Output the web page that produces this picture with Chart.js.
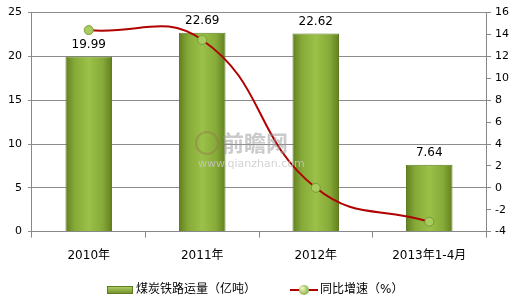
<!DOCTYPE html>
<html>
<head>
<meta charset="utf-8">
<script src="https://cdn.jsdelivr.net/npm/chart.js@4"></script>
<style>
  html, body { margin: 0; padding: 0; background: #fff; }
  #wrap { width: 513px; height: 301px; }
</style>
</head>
<body>
<div id="wrap"><canvas id="chart" width="513" height="301"></canvas></div>
<script>
const categories = ['2010年', '2011年', '2012年', '2013年1-4月']
const volume = [19.99, 22.69, 22.62, 7.64]
const growth = [14.4, 13.5, 0, -3.1]
const volumeLabel = '煤炭铁路运量（亿吨）'
const growthLabel = '同比增速（%）'
const leftTicks = { min: 0, max: 25, step: 5 }
const rightTicks = { min: -4, max: 16, step: 2 }

const FONT = '"DejaVu Sans", "Noto Sans CJK SC", sans-serif'
const BAR_PCT = 0.41

// green bar fill, darker at the edges
function barFill(ctx) {
    const chart = ctx.chart
    const xs = chart.scales.x
    if (!xs || !chart.chartArea || ctx.dataIndex === undefined) return '#8db33f'
    const cx = xs.getPixelForValue(ctx.dataIndex)
    const w = (xs.width / categories.length) * BAR_PCT
    if (!isFinite(cx) || !w) return '#8db33f'
    const g = chart.ctx.createLinearGradient(cx - w / 2, 0, cx + w / 2, 0)
    g.addColorStop(0, '#627f20')
    g.addColorStop(0.2, '#86aa38')
    g.addColorStop(0.5, '#9ac148')
    g.addColorStop(0.8, '#86aa38')
    g.addColorStop(1, '#627f20')
    return g
}

const barLabels = {
    id: 'barLabels',
    afterDatasetsDraw(chart) {
        const c = chart.ctx
        const meta = chart.getDatasetMeta(1)
        c.save()
        c.font = '12px ' + FONT
        c.fillStyle = '#000'
        c.textAlign = 'center'
        c.textBaseline = 'bottom'
        meta.data.forEach((bar, i) => {
            c.fillText(volume[i].toFixed(2), bar.x, bar.y - 6)
        })
        c.restore()
    }
}

// legend drawn by hand so the swatches can look like the original
const bottomLegend = {
    id: 'bottomLegend',
    afterDraw(chart) {
        const c = chart.ctx
        const y = 290
        c.save()
        c.font = '12px ' + FONT
        c.textBaseline = 'middle'
        c.textAlign = 'left'
        c.fillStyle = '#000'

        // bar swatch
        const g = c.createLinearGradient(0, y - 4, 0, y + 4)
        g.addColorStop(0, '#b5d36a'); g.addColorStop(1, '#6c8c26')
        c.fillStyle = g
        c.fillRect(107, y - 4, 26, 8)
        c.strokeStyle = '#5f7d20'; c.lineWidth = 1
        c.strokeRect(107.5, y - 3.5, 25, 7)
        c.fillStyle = '#000'
        c.fillText(chart.data.datasets[1].label, 136, y)

        // line swatch
        c.strokeStyle = '#b00000'; c.lineWidth = 2
        c.beginPath(); c.moveTo(290, y); c.lineTo(318, y); c.stroke()
        const rg = c.createRadialGradient(302, y - 2, 1, 304, y, 6)
        rg.addColorStop(0, '#e4f3b8'); rg.addColorStop(1, '#7fa63a')
        c.fillStyle = rg
        c.beginPath(); c.arc(304, y, 5, 0, Math.PI * 2); c.fill()
        c.fillStyle = '#000'
        c.fillText(chart.data.datasets[0].label, 320, y)
        c.restore()
    }
}

// faint site watermark, sits on top of the bars like in the original
const watermark = {
    id: 'watermark',
    afterDatasetsDraw(chart) {
        const c = chart.ctx
        c.save()
        c.fillStyle = 'rgba(150,150,150,0.5)'
        c.font = 'bold 22px "Noto Sans CJK SC", sans-serif'
        c.textAlign = 'left'
        c.textBaseline = 'middle'
        c.fillText('前瞻网', 222, 143)
        c.fillStyle = 'rgba(200,200,200,0.8)'
        c.font = '11px ' + FONT
        c.fillText('www.qianzhan.com', 198, 164)
        c.strokeStyle = 'rgba(150,120,80,0.45)'
        c.lineWidth = 2
        c.beginPath(); c.arc(207, 143, 11, 0, Math.PI * 2); c.stroke()
        c.restore()
    }
}

new Chart(document.getElementById('chart'), {
    data: {
        labels: categories,
        datasets: [
            {
                type: 'line',
                label: growthLabel,
                data: growth,
                yAxisID: 'y1',
                borderColor: '#b00000',
                borderWidth: 2,
                tension: 0.45,
                pointRadius: 4.5,
                pointBackgroundColor: '#a9cc5e',
                pointBorderColor: '#7a9b38',
                pointBorderWidth: 1,
                order: 0
            },
            {
                type: 'bar',
                label: volumeLabel,
                data: volume,
                yAxisID: 'y',
                backgroundColor: barFill,
                borderColor: '#5f7d20',
                borderWidth: 1,
                categoryPercentage: 1,
                barPercentage: BAR_PCT,
                order: 1
            }
        ]
    },
    options: {
        responsive: false,
        animation: false,
        layout: { padding: { left: 2, right: 0, top: 0, bottom: 27 } },
        plugins: {
            tooltip: { enabled: false },
            legend: { display: false }
        },
        scales: {
            x: {
                offset: true,
                grid: { offset: true, drawOnChartArea: false, drawTicks: true, tickLength: 6, color: '#888' },
                border: { color: '#888' },
                ticks: { color: '#000', font: { family: FONT, size: 12 }, padding: 11 }
            },
            y: {
                position: 'left',
                min: leftTicks.min,
                max: leftTicks.max,
                ticks: { stepSize: leftTicks.step, color: '#000', font: { family: FONT, size: 11 }, padding: 6 },
                grid: { color: '#8c8c8c', tickLength: 4 },
                border: { color: '#888' }
            },
            y1: {
                position: 'right',
                min: rightTicks.min,
                max: rightTicks.max,
                ticks: { stepSize: rightTicks.step, color: '#000', font: { family: FONT, size: 11 }, padding: 4 },
                grid: { drawOnChartArea: false, color: '#888', tickLength: 5 },
                border: { color: '#888' }
            }
        }
    },
    plugins: [barLabels, watermark, bottomLegend]
})
</script>
</body>
</html>
